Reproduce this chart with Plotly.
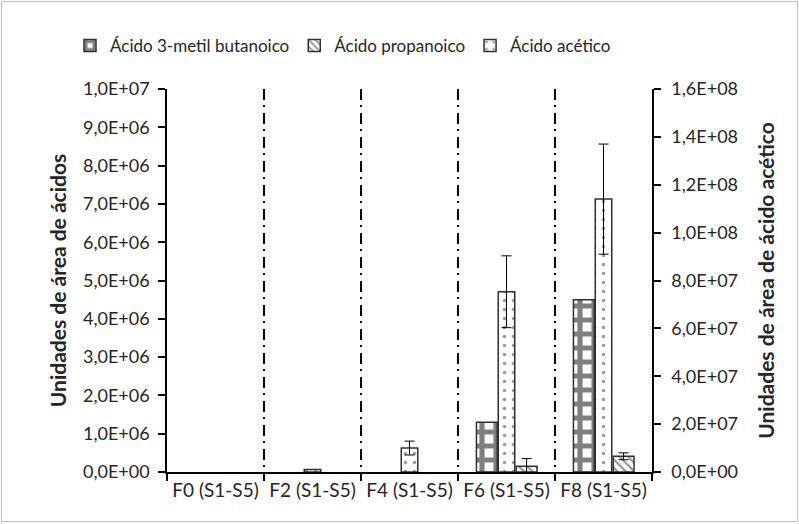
import numpy as np
import plotly.graph_objects as go

categories = ["F0 (S1-S5)", "F2 (S1-S5)", "F4 (S1-S5)", "F6 (S1-S5)", "F8 (S1-S5)"]

butanoico = [0, 0, 0, 1.3e6, 4.5e6]
propanoico = [0, 0, 0, 1.5e5, 4.1e5]
propanoico_err = [np.nan, np.nan, np.nan, 2.0e5, 0.9e5]
acetico = [0, 1.0e6, 1.0e7, 7.53e7, 1.14e8]
acetico_err = [np.nan, np.nan, 2.9e6, 1.5e7, 2.3e7]

left_ticks = [i * 1e6 for i in range(11)]
right_ticks = [i * 2e7 for i in range(9)]


def fmt(v):
    return f"{v:.1E}".replace(".", ",")


def shown(vals):
    # zero-valued bars are not drawn in the original chart
    return np.array([v if v != 0 else np.nan for v in vals], dtype=float)


left_ticktext = [fmt(v) for v in left_ticks]
right_ticktext = [fmt(v) for v in right_ticks]

W, H = 799, 524
ml, mr, mt, mb = 167, 147, 89, 52
pw, ph = W - ml - mr, H - mt - mb

FONT = "Lato"
TXT = "#262626"
OUT = "#303030"
XTICK = 19
YTICK = 18
TITLE = 21

fig = go.Figure()

fig.add_trace(go.Bar(
    name="Ácido 3-metil butanoico", x=categories, y=shown(butanoico), yaxis="y",
    offset=-0.31, width=0.215,
    marker=dict(color="white", line=dict(color=OUT, width=1.5),
                pattern=dict(shape="+", fgcolor="black", bgcolor="white",
                             size=14, solidity=0.6)),
))
fig.add_trace(go.Bar(
    name="Ácido propanoico", x=categories, y=shown(propanoico), yaxis="y",
    offset=0.10, width=0.215,
    marker=dict(color="white", line=dict(color=OUT, width=1.5),
                pattern=dict(shape="\\", fgcolor="#333333", bgcolor="white",
                             size=6, solidity=0.4)),
    error_y=dict(type="data", array=np.array(propanoico_err, dtype=float),
                 color="black", thickness=1, width=5),
))
fig.add_trace(go.Bar(
    name="Ácido acético", x=categories, y=shown(acetico), yaxis="y2",
    offset=-0.085, width=0.17,
    marker=dict(color="white", line=dict(color=OUT, width=1.5),
                pattern=dict(shape=".", fgcolor="#333333", bgcolor="white",
                             size=9, solidity=0.12)),
    error_y=dict(type="data", array=np.array(acetico_err, dtype=float),
                 color="black", thickness=1, width=5),
))

fig.update_layout(
    width=W, height=H,
    margin=dict(l=ml, r=mr, t=mt, b=mb, autoexpand=False),
    paper_bgcolor="white", plot_bgcolor="white",
    barmode="overlay",
    font=dict(family=FONT, size=17, color=TXT),
    showlegend=True,
    legend=dict(orientation="h", x=(70 - ml) / pw, xanchor="left",
                y=(H - mb - 28) / ph, yanchor="top",
                font=dict(family=FONT, size=17, color=TXT),
                itemwidth=30, traceorder="normal", bgcolor="rgba(0,0,0,0)"),
    xaxis=dict(
        type="category", tickson="boundaries", ticks="outside", ticklen=7,
        tickcolor="black", tickwidth=1.5,
        showline=True, linecolor="black", linewidth=1.5,
        showgrid=True, gridcolor="black", gridwidth=1.8,
        griddash="11px,5px,2px,6px",
        tickfont=dict(family=FONT, size=XTICK, color=TXT),
        range=[-0.5, 4.5],
    ),
    yaxis=dict(
        range=[0, 1e7], tickvals=left_ticks, ticktext=left_ticktext,
        ticks="outside", ticklen=7, tickcolor="black", tickwidth=1.5,
        ticklabelstandoff=5,
        showline=True, linecolor="black", linewidth=1.5,
        showgrid=False, zeroline=False,
        tickfont=dict(family=FONT, size=YTICK, color=TXT),
        title=dict(text="<b>Unidades de área de ácidos</b>",
                   font=dict(family=FONT, size=TITLE, color=TXT), standoff=11),
    ),
    yaxis2=dict(
        range=[0, 1.6e8], tickvals=right_ticks, ticktext=right_ticktext,
        overlaying="y", side="right",
        ticks="outside", ticklen=7, tickcolor="black", tickwidth=1.5,
        ticklabelstandoff=7,
        showline=True, linecolor="black", linewidth=1.5,
        showgrid=False, zeroline=False,
        tickfont=dict(family=FONT, size=YTICK, color=TXT),
        title=dict(text="<b>Unidades de área de ácido acético</b>",
                   font=dict(family=FONT, size=TITLE, color=TXT), standoff=22),
    ),
    shapes=[dict(type="rect", xref="paper", yref="paper",
                 x0=(1.5 - ml) / pw, x1=(797.5 - ml) / pw,
                 y0=(H - mb - 521.5) / ph, y1=(H - mb - 1.5) / ph,
                 line=dict(color="#bfbfbf", width=1), layer="below")],
)

fig.write_html(
    "out.html",
    config={"displayModeBar": False},
    post_script="document.body.style.margin='0';document.body.style.overflow='hidden';",
)
